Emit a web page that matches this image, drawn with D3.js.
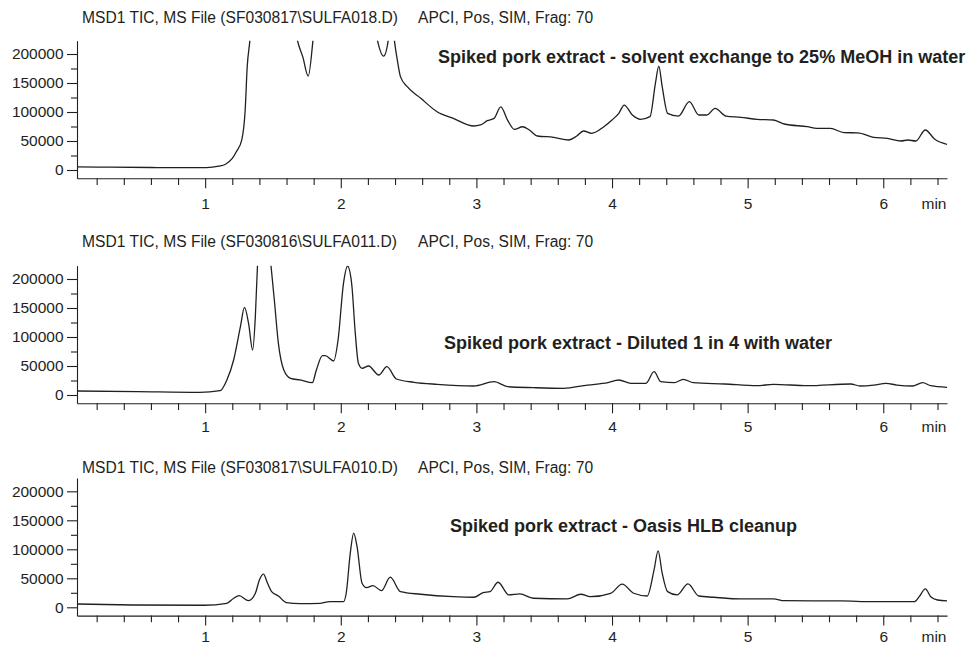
<!DOCTYPE html>
<html>
<head>
<meta charset="utf-8">
<script src="https://cdn.jsdelivr.net/npm/d3@7"></script>
<style>
  body { margin: 0; background: #fff; }
  svg text { font-family: 'Liberation Sans', Arial, sans-serif; fill: #231f20; }
</style>
</head>
<body>
<div id="viz"></div>
<script>
// retention time (min) and TIC abundance
var timeSolvent = [0.055, 0.3, 0.6, 0.9, 1.01, 1.1, 1.15, 1.2, 1.23, 1.27, 1.295, 1.31, 1.33, 1.36, 1.45, 1.55, 1.63, 1.68, 1.72, 1.76, 1.795, 1.83, 1.95, 2.1, 2.22, 2.27, 2.316, 2.35, 2.37, 2.395, 2.42, 2.44, 2.49, 2.59, 2.71, 2.83, 2.98, 3.03, 3.08, 3.13, 3.18, 3.23, 3.28, 3.34, 3.39, 3.45, 3.57, 3.68, 3.74, 3.79, 3.85, 3.94, 4.0, 4.05, 4.09, 4.15, 4.21, 4.28, 4.32, 4.345, 4.37, 4.41, 4.49, 4.57, 4.64, 4.70, 4.76, 4.84, 4.95, 5.07, 5.19, 5.27, 5.44, 5.51, 5.61, 5.71, 5.81, 5.93, 6.03, 6.13, 6.18, 6.24, 6.31, 6.38, 6.47];
var ticSolvent = [5500, 4800, 4300, 4000, 4000, 6500, 10000, 20000, 31500, 52000, 103000, 178000, 224000, 320000, 500000, 420000, 300000, 224000, 195000, 162000, 224000, 320000, 420000, 400000, 300000, 224000, 196500, 224000, 280000, 224000, 185000, 161000, 143600, 123600, 100500, 89000, 75900, 77600, 85000, 89000, 109000, 86000, 70000, 74600, 69000, 58600, 56400, 51700, 58600, 67200, 63200, 74600, 86200, 97700, 112000, 94800, 87400, 92000, 149500, 179000, 143600, 97700, 93000, 117800, 94800, 94800, 106300, 93000, 90800, 87400, 86200, 79300, 74600, 71800, 71800, 64400, 64000, 56400, 54600, 50000, 51700, 50000, 69000, 53000, 44300];

var timeDiluted = [0.055, 0.5, 0.96, 1.11, 1.16, 1.21, 1.26, 1.29, 1.32, 1.35, 1.37, 1.386, 1.40, 1.44, 1.485, 1.51, 1.54, 1.58, 1.63, 1.70, 1.79, 1.82, 1.865, 1.885, 1.947, 1.98, 2.02, 2.05, 2.08, 2.107, 2.13, 2.157, 2.205, 2.28, 2.34, 2.41, 2.54, 2.71, 2.98, 3.13, 3.23, 3.42, 3.64, 3.82, 3.97, 4.05, 4.14, 4.25, 4.31, 4.36, 4.46, 4.525, 4.60, 4.83, 5.07, 5.19, 5.44, 5.76, 5.83, 5.93, 6.02, 6.10, 6.215, 6.29, 6.35, 6.47];
var ticDiluted = [6900, 5800, 4600, 7400, 25900, 60300, 117800, 151000, 123600, 77600, 135000, 224000, 320000, 330000, 224000, 163800, 89000, 43100, 28700, 25900, 21200, 43100, 67800, 67800, 58600, 94800, 192600, 222000, 192600, 106300, 54600, 46000, 50000, 34500, 48800, 27600, 21900, 18400, 15500, 23000, 14300, 12600, 11500, 17200, 21200, 25900, 20100, 20100, 40200, 23000, 21200, 27000, 21200, 19000, 16100, 18400, 16100, 19000, 15500, 17000, 20100, 17200, 15500, 21200, 16000, 13200];

var timeOasis = [0.055, 0.47, 0.99, 1.16, 1.21, 1.25, 1.32, 1.37, 1.40, 1.43, 1.46, 1.49, 1.54, 1.60, 1.70, 1.85, 1.92, 2.02, 2.04, 2.07, 2.095, 2.12, 2.157, 2.19, 2.237, 2.30, 2.365, 2.44, 2.59, 2.83, 2.98, 3.05, 3.10, 3.16, 3.24, 3.32, 3.42, 3.67, 3.77, 3.84, 3.99, 4.075, 4.16, 4.26, 4.31, 4.34, 4.37, 4.41, 4.48, 4.56, 4.64, 4.75, 4.95, 5.19, 5.27, 5.69, 5.93, 6.23, 6.265, 6.31, 6.35, 6.40, 6.47];
var ticOasis = [5700, 4000, 3500, 6900, 15600, 20100, 11400, 24200, 47200, 57100, 41500, 27000, 19500, 8000, 6200, 6900, 9700, 9700, 24200, 93400, 128000, 104800, 41500, 34000, 37400, 28700, 51900, 27000, 22500, 18300, 17300, 25300, 27000, 43200, 21300, 23000, 15600, 14400, 22500, 18300, 24200, 39800, 24200, 19500, 64500, 97400, 58800, 27000, 21300, 40300, 19500, 17300, 14400, 14400, 11400, 11000, 9700, 9700, 18300, 31700, 18300, 12600, 11000];

var fileNames = ['MSD1 TIC, MS File (SF030817\\SULFA018.D)',
                 'MSD1 TIC, MS File (SF030816\\SULFA011.D)',
                 'MSD1 TIC, MS File (SF030817\\SULFA010.D)'];
var methodText = 'APCI, Pos, SIM, Frag: 70';
var sampleLabels = ['Spiked pork extract - solvent exchange to 25% MeOH in water',
                    'Spiked pork extract - Diluted 1 in 4 with water',
                    'Spiked pork extract - Oasis HLB cleanup'];
var xMajor = [1, 2, 3, 4, 5, 6];
var yMajor = [0, 50000, 100000, 150000, 200000];
var yMinor = [25000, 75000, 125000, 175000];

var series = [
  {t: timeSolvent, v: ticSolvent},
  {t: timeDiluted, v: ticDiluted},
  {t: timeOasis, v: ticOasis}
];

// panel geometry: zero line, header / label baselines, tick label padding
var layout = [
  {zero: 170, head: 22.7, label: 63.3, labelX: 438, pad: 9.7},
  {zero: 395, head: 247.3, label: 349, labelX: 444, pad: 7.4},
  {zero: 607.3, head: 472.7, label: 531.7, labelX: 450, pad: 5}
];

var width = 970, height = 646;
var left = 77, right = 947;
var pxPer200k = 116;
var smallFont = '15.5px';

var svg = d3.select('#viz').append('svg')
    .attr('width', width)
    .attr('height', height);

var xScale = d3.scaleLinear()
    .domain([0.055, 6.47])
    .range([left, right]);

var xMinor = d3.range(1, 33).map(function(i) { return i / 5; })
    .filter(function(d) { return Math.abs(d - Math.round(d)) > 0.01; });

layout.forEach(function(p, i) {
  var k = pxPer200k / 200000;
  // y domain runs a little below 0 so the axis line meets the time axis
  var yScale = d3.scaleLinear()
      .domain([-8.3 / k, 223000])
      .range([p.zero + 8.3, p.zero - 223000 * k]);
  var axisY = p.zero + 8.3;
  var top = yScale(223000);

  var g = svg.append('g');

  var clipId = 'clip' + i;
  g.append('clipPath').attr('id', clipId)
    .append('rect')
      .attr('x', left)
      .attr('y', top)
      .attr('width', right - left)
      .attr('height', axisY - top);

  var lineFunc = d3.line()
      .x(function(d) { return xScale(d[0]); })
      .y(function(d) { return yScale(d[1]); })
      .curve(d3.curveMonotoneX);

  var pts = d3.zip(series[i].t, series[i].v);

  g.append('path')
    .attr('d', lineFunc(pts))
    .attr('clip-path', 'url(#' + clipId + ')')
    .attr('fill', 'none')
    .attr('stroke', '#231f20')
    .attr('stroke-width', 1.3)
    .attr('stroke-linejoin', 'round');

  // time axis
  var xMinorAxis = g.append('g')
      .attr('transform', 'translate(0,' + axisY + ')')
      .call(d3.axisBottom(xScale).tickValues(xMinor).tickSize(6.7).tickSizeOuter(0).tickFormat(''));
  xMinorAxis.select('.domain').remove();

  var xGuide = g.append('g')
      .attr('transform', 'translate(0,' + axisY + ')')
      .call(d3.axisBottom(xScale).tickValues(xMajor).tickSize(10).tickSizeOuter(0)
        .tickPadding(p.pad).tickFormat(d3.format('d')));

  g.append('text')
    .attr('x', 934)
    .attr('y', axisY + 10 + p.pad)
    .attr('dy', '0.71em')
    .attr('text-anchor', 'middle')
    .style('font-size', smallFont)
    .text('min');

  // abundance axis
  var yMinorAxis = g.append('g')
      .attr('transform', 'translate(' + left + ',0)')
      .call(d3.axisLeft(yScale).tickValues(yMinor).tickSize(6).tickSizeOuter(0).tickFormat(''));
  yMinorAxis.select('.domain').remove();

  var yGuide = g.append('g')
      .attr('transform', 'translate(' + left + ',0)')
      .call(d3.axisLeft(yScale).tickValues(yMajor).tickSize(10).tickSizeOuter(0)
        .tickPadding(3.4).tickFormat(d3.format('d')));

  g.selectAll('.tick line, .domain').attr('stroke', '#231f20').attr('stroke-width', 1.1);
  g.selectAll('.tick text').style('font-size', smallFont)
    .style('font-family', "'Liberation Sans', Arial, sans-serif").attr('fill', '#231f20');

  g.append('text')
    .attr('x', 82)
    .attr('y', p.head)
    .style('font-size', '15.6px')
    .text(fileNames[i]);

  g.append('text')
    .attr('x', 418)
    .attr('y', p.head)
    .style('font-size', '15.6px')
    .text(methodText);

  g.append('text')
    .attr('x', p.labelX)
    .attr('y', p.label)
    .style('font-size', '18px')
    .style('font-weight', 'bold')
    .text(sampleLabels[i]);
});
</script>
</body>
</html>
